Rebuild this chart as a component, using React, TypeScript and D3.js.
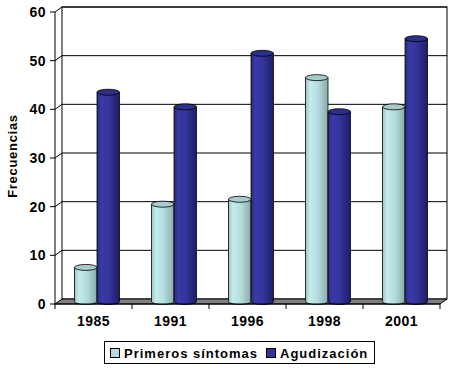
import * as d3 from "d3";
import React, { useEffect, useRef } from "react";

const years = ["1985", "1991", "1996", "1998", "2001"];
const seriesNames = ["Primeros síntomas", "Agudización"];
const primeros = [7, 20, 21, 46, 40];
const agudizacion = [43, 40, 51, 39, 54];
const yTicks = [0, 10, 20, 30, 40, 50, 60];

const W = 458, H = 373;
const DX = 7, DY = -5; // profundidad 3D

export default function App() {
  const svgRef = useRef<SVGSVGElement>(null);

  useEffect(() => {
    const svg = d3.select(svgRef.current);
    svg.selectAll("*").remove();

    const x0 = d3.scaleBand().domain(years).range([55, 440]).padding(0);
    const x1 = d3.scaleBand().domain(seriesNames).range([16, 61]).padding(0);
    const y = d3.scaleLinear().domain([0, 60]).range([304, 12]);
    const font = "Arial, 'Liberation Sans', sans-serif";

    // degradados de los cilindros
    const defs = svg.append("defs");
    const grads = [
      { id: "gLight", stops: ["#9cc4c4", "#c4ecec", "#b4dcdc", "#8aaaaa"] },
      { id: "gDark", stops: ["#2a2a88", "#3a3aa8", "#333399", "#1e1e5e"] },
    ];
    grads.forEach((g) => {
      const lg = defs.append("linearGradient").attr("id", g.id).attr("x1", "0").attr("x2", "1");
      [0, 0.2, 0.55, 1].forEach((o, i) => lg.append("stop").attr("offset", o).attr("stop-color", g.stops[i]));
    });
    const topFill = ["#a8cccc", "#2e2e8c"];
    const legendFill = ["#b4dcdc", "#333399"];

    const x0s = x0.range()[0], x0e = x0.range()[1];

    // pared del fondo
    svg.append("rect")
      .attr("x", x0s + DX).attr("y", y(60) + DY)
      .attr("width", x0e - x0s).attr("height", y(0) - y(60))
      .attr("fill", "#fff").attr("stroke", "#000");

    // líneas de cuadrícula
    yTicks.filter((t) => t > 0).forEach((t) => {
      svg.append("line")
        .attr("x1", x0s + DX).attr("x2", x0e + DX)
        .attr("y1", y(t) + DY).attr("y2", y(t) + DY)
        .attr("stroke", "#000");
      svg.append("line")
        .attr("x1", x0s).attr("x2", x0s + DX)
        .attr("y1", y(t)).attr("y2", y(t) + DY)
        .attr("stroke", "#000");
    });

    // suelo
    svg.append("path")
      .attr("d", `M${x0s},${y(0)} L${x0e},${y(0)} L${x0e + DX},${y(0) + DY} L${x0s + DX},${y(0) + DY} Z`)
      .attr("fill", "#808080").attr("stroke", "#000");

    // cilindros
    const bw = x1.bandwidth();
    const ry = 3;
    const drawCyl = (cx: number, v: number, si: number) => {
      const yt = y(v) + DY / 2;
      const yb = y(0) + DY / 2;
      const rx = bw / 2;
      svg.append("path")
        .attr("d", `M${cx - rx},${yt} L${cx - rx},${yb} A${rx},${ry} 0 0 0 ${cx + rx},${yb} L${cx + rx},${yt} Z`)
        .attr("fill", `url(#${grads[si].id})`).attr("stroke", "#000").attr("stroke-width", 0.8);
      svg.append("ellipse")
        .attr("cx", cx).attr("cy", yt).attr("rx", rx).attr("ry", ry)
        .attr("fill", topFill[si]).attr("stroke", "#000").attr("stroke-width", 0.8);
    };
    years.forEach((yr, i) => {
      [primeros[i], agudizacion[i]].forEach((v, si) => {
        const cx = (x0(yr) as number) + (x1(seriesNames[si]) as number) + bw / 2 + DX / 2;
        drawCyl(cx, v, si);
      });
    });

    // eje Y
    svg.append("line").attr("x1", x0s).attr("x2", x0s).attr("y1", y(60)).attr("y2", y(0)).attr("stroke", "#000");
    yTicks.forEach((t) => {
      svg.append("line").attr("x1", x0s - 5).attr("x2", x0s).attr("y1", y(t)).attr("y2", y(t)).attr("stroke", "#000");
      svg.append("text")
        .attr("x", x0s - 9).attr("y", y(t)).attr("dy", "0.36em")
        .attr("text-anchor", "end").attr("font-family", font)
        .attr("font-size", 14).attr("font-weight", "bold")
        .attr("letter-spacing", 0.5).text(t);
    });

    // eje X
    svg.append("line").attr("x1", x0s).attr("x2", x0e).attr("y1", y(0)).attr("y2", y(0)).attr("stroke", "#000");
    [...years.map((yr) => x0(yr) as number), x0e].forEach((xv) => {
      svg.append("line").attr("x1", xv).attr("x2", xv).attr("y1", y(0)).attr("y2", y(0) + 5).attr("stroke", "#000");
    });
    years.forEach((yr) => {
      svg.append("text")
        .attr("x", (x0(yr) as number) + x0.bandwidth() / 2).attr("y", 326)
        .attr("text-anchor", "middle").attr("font-family", font)
        .attr("font-size", 14).attr("font-weight", "bold")
        .attr("letter-spacing", 0.5).text(yr);
    });

    // título eje Y
    svg.append("text")
      .attr("transform", `translate(17,156) rotate(-90)`)
      .attr("text-anchor", "middle").attr("font-family", font)
      .attr("font-size", 13).attr("font-weight", "bold")
      .attr("letter-spacing", 0.7).text("Frecuencias");

    // leyenda
    const lg = svg.append("g");
    lg.append("rect").attr("x", 104.5).attr("y", 341.5).attr("width", 270).attr("height", 22)
      .attr("fill", "#fff").attr("stroke", "#000");
    const legX = [110, 266];
    seriesNames.forEach((s, i) => {
      lg.append("rect").attr("x", legX[i] + 0.5).attr("y", 348.5).attr("width", 9).attr("height", 9)
        .attr("fill", legendFill[i]).attr("stroke", "#000");
      lg.append("text").attr("x", legX[i] + 14).attr("y", 357.5)
        .attr("font-family", font).attr("font-size", 13).attr("font-weight", "bold")
        .attr("letter-spacing", 1).text(s);
    });
  }, []);

  return <svg ref={svgRef} width={W} height={H} style={{ position: "absolute", left: 0, top: 0 }} />;
}
